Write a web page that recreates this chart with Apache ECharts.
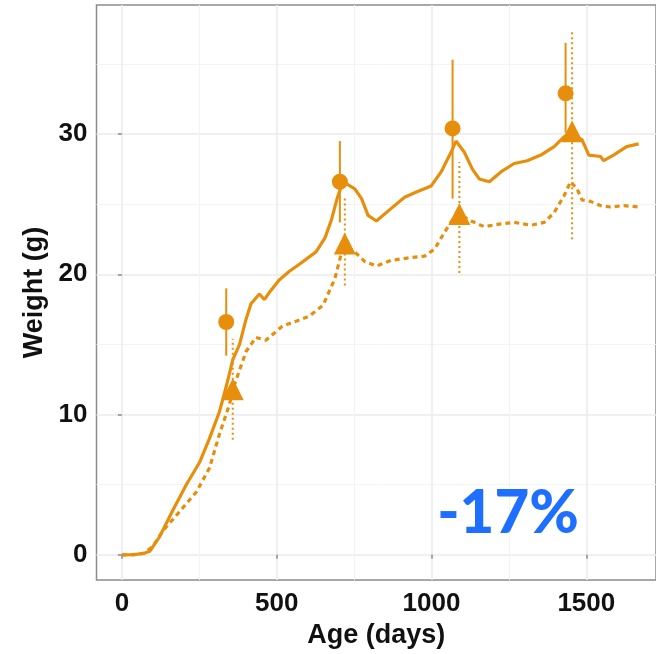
<!DOCTYPE html>
<html>
<head>
<meta charset="utf-8">
<script src="https://cdn.jsdelivr.net/npm/echarts@6/dist/echarts.min.js"></script>
<style>
  html, body { margin: 0; padding: 0; background: #fff; }
  #chart { width: 656px; height: 654px; }
</style>
</head>
<body>
<div id="chart"></div>
<script>
// ad lib curve (solid)
var solidDays = [0, 40, 70, 90, 122, 165, 208, 251, 283, 315, 337, 358, 380, 401, 417, 444, 460, 476, 508, 540, 572, 627, 656, 677, 695, 714, 752, 774, 795, 822, 870, 913, 955, 999, 1031, 1063, 1079, 1106, 1132, 1154, 1187, 1224, 1267, 1309, 1353, 1396, 1428, 1453, 1486, 1508, 1546, 1556, 1588, 1630, 1669];
var solidWeight = [0, 0.02, 0.1, 0.25, 1.3, 3.2, 5.0, 6.6, 8.3, 10.2, 12.0, 13.9, 15.0, 16.8, 17.9, 18.6, 18.2, 18.7, 19.6, 20.2, 20.7, 21.6, 22.6, 23.9, 25.4, 26.6, 26.1, 25.4, 24.2, 23.8, 24.7, 25.5, 25.9, 26.3, 27.3, 28.7, 29.5, 28.7, 27.5, 26.8, 26.6, 27.3, 27.9, 28.1, 28.5, 29.1, 29.8, 30.0, 29.6, 28.5, 28.4, 28.1, 28.5, 29.1, 29.3];
// restricted curve (dashed)
var dashDays = [0, 40, 70, 100, 132, 187, 241, 283, 315, 347, 363, 401, 433, 465, 518, 604, 650, 670, 688, 710, 726, 752, 785, 822, 870, 935, 978, 1010, 1042, 1068, 1090, 1128, 1170, 1224, 1267, 1321, 1364, 1396, 1428, 1449, 1470, 1486, 1513, 1546, 1578, 1621, 1669];
var dashWeight = [0, 0.02, 0.1, 0.6, 1.7, 3.1, 4.5, 6.2, 8.6, 10.7, 12.1, 14.5, 15.5, 15.3, 16.3, 17.0, 17.8, 18.8, 19.7, 21.6, 22.0, 21.6, 20.9, 20.6, 21.0, 21.2, 21.3, 21.8, 23.0, 23.9, 24.3, 23.8, 23.4, 23.6, 23.7, 23.5, 23.7, 24.4, 25.6, 26.6, 26.1, 25.3, 25.2, 24.9, 24.8, 24.9, 24.8];
// measured points
var circleDays = [337, 704, 1068, 1433];
var circleMean = [16.6, 26.6, 30.4, 32.9];
var circleLow = [14.2, 23.7, 25.4, 30.1];
var circleHigh = [19.0, 29.5, 35.3, 36.5];
var triDays = [358, 720, 1090, 1454];
var triMean = [11.8, 22.2, 24.3, 30.2];
var triLow = [8.2, 19.2, 20.1, 22.5];
var triHigh = [15.4, 25.6, 28.0, 37.4];
var xTicks = [0, 500, 1000, 1500];
var yTicks = [0, 10, 20, 30];

var ORANGE = '#E78F0C';

function pairs(xs, ys) {
    return xs.map(function (x, i) { return [x, ys[i]]; });
}
function bars(xs, lo, hi) {
    return xs.map(function (x, i) { return [x, lo[i], hi[i]]; });
}
function errorBar(dash) {
    return function (params, api) {
        var x = api.value(0);
        var a = api.coord([x, api.value(1)]);
        var b = api.coord([x, api.value(2)]);
        return {
            type: 'line',
            shape: { x1: a[0], y1: a[1], x2: b[0], y2: b[1] },
            style: { stroke: ORANGE, lineWidth: 2, lineDash: dash }
        };
    };
}
function plain(v) { return String(v); }

var myChart = echarts.init(document.getElementById('chart'));
var axisFont = { color: '#111', fontSize: 26, fontWeight: 'bold', fontFamily: 'Liberation Sans' };
var titleFont = { color: '#111', fontSize: 27, fontWeight: 'bold', fontFamily: 'Liberation Sans' };
var option = {
    backgroundColor: '#fff',
    animation: false,
    grid: {
        left: 96.5, top: 5, right: -2, bottom: 72.7,
        show: true, borderColor: '#8c8c8c', borderWidth: 1.5
    },
    xAxis: {
        type: 'value',
        min: -82, max: 1725,
        splitNumber: 4,
        name: 'Age (days)',
        nameLocation: 'middle',
        nameGap: 38,
        nameTextStyle: titleFont,
        axisLine: { show: false },
        axisTick: { show: true, length: 4, customValues: xTicks, lineStyle: { color: '#8c8c8c', width: 1.5 } },
        axisLabel: Object.assign({ margin: 11, customValues: xTicks, formatter: plain }, axisFont),
        splitLine: { lineStyle: { color: '#ebebeb', width: 1.5 } },
        minorTick: { show: false, splitNumber: 2 },
        minorSplitLine: { show: true, lineStyle: { color: '#f3f3f3', width: 1 } }
    },
    yAxis: {
        type: 'value',
        min: -1.8, max: 39.2,
        splitNumber: 4,
        name: 'Weight (g)',
        nameLocation: 'middle',
        nameGap: 46,
        nameTextStyle: titleFont,
        axisLine: { show: false },
        axisTick: { show: true, length: 4, customValues: yTicks, lineStyle: { color: '#8c8c8c', width: 1.5 } },
        axisLabel: Object.assign({ margin: 9, customValues: yTicks, formatter: plain }, axisFont),
        splitLine: { lineStyle: { color: '#ebebeb', width: 1.5 } },
        minorTick: { show: false, splitNumber: 2 },
        minorSplitLine: { show: true, lineStyle: { color: '#f3f3f3', width: 1 } }
    },
    series: [
        {
            name: 'ad lib',
            type: 'line',
            data: pairs(solidDays, solidWeight),
            showSymbol: false,
            lineStyle: { color: ORANGE, width: 3.2 },
            z: 2
        },
        {
            name: 'restricted',
            type: 'line',
            data: pairs(dashDays, dashWeight),
            showSymbol: false,
            lineStyle: { color: ORANGE, width: 3.2, type: [5, 4] },
            z: 2
        },
        {
            type: 'custom',
            renderItem: errorBar(null),
            data: bars(circleDays, circleLow, circleHigh),
            z: 3
        },
        {
            type: 'custom',
            renderItem: errorBar([2, 3]),
            data: bars(triDays, triLow, triHigh),
            z: 3
        },
        {
            type: 'scatter',
            data: pairs(circleDays, circleMean),
            symbol: 'circle',
            symbolSize: 16,
            itemStyle: { color: ORANGE, opacity: 1 },
            z: 4
        },
        {
            type: 'scatter',
            data: pairs(triDays, triMean),
            symbol: 'triangle',
            symbolSize: 22,
            itemStyle: { color: ORANGE, opacity: 1 },
            z: 4
        }
    ],
    graphic: [{
        type: 'text',
        x: 508, y: 514,
        style: {
            text: '-17%',
            fill: '#1E6EFF',
            font: '900 60px Lato',
            textAlign: 'center',
            textVerticalAlign: 'middle'
        },
        z: 10
    }]
};
myChart.setOption(option);
</script>
</body>
</html>
